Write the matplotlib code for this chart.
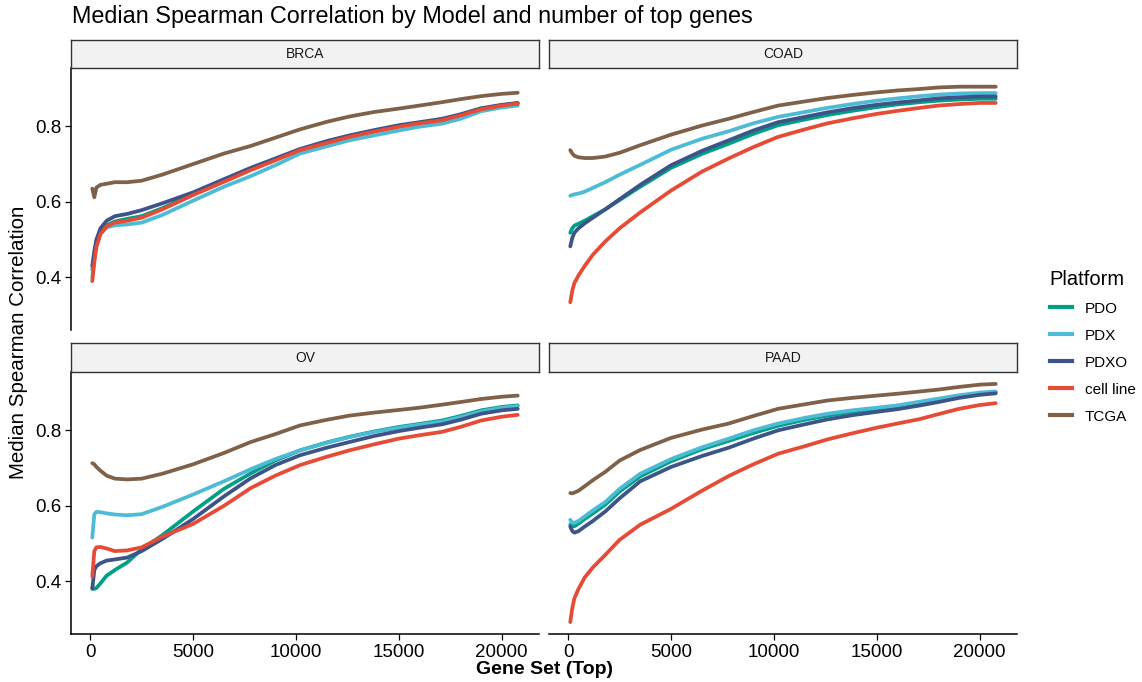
import matplotlib
matplotlib.use("Agg")
import matplotlib.pyplot as plt
from matplotlib.lines import Line2D

plt.rcParams['font.family'] = ['Liberation Sans', 'DejaVu Sans']

# Gene set sizes (shared grid of read-off points)
gene_set = [100, 200, 300, 500, 800, 1200, 1800, 2500, 3500, 5000, 6500, 7800,
            9000, 10200, 11500, 12600, 13800, 15000, 16000, 17100, 18000, 19000,
            20000, 20780]

platforms = ["PDO", "PDX", "PDXO", "cell line", "TCGA"]
colors = ["#00A087", "#4DBBD5", "#3C5488", "#E64B35", "#7E6148"]
panels = ["BRCA", "COAD", "OV", "PAAD"]

# BRCA
brca_pdo = [0.42, 0.455, 0.49, 0.52, 0.538, 0.548, 0.555, 0.562, 0.583, 0.62, 0.655, 0.686,
            0.712, 0.738, 0.757, 0.773, 0.787, 0.8, 0.809, 0.817, 0.83, 0.846, 0.856, 0.861]
brca_pdx = [0.40, 0.45, 0.485, 0.515, 0.532, 0.538, 0.54, 0.545, 0.565, 0.603, 0.64, 0.668,
            0.697, 0.728, 0.747, 0.763, 0.776, 0.789, 0.799, 0.807, 0.82, 0.84, 0.85, 0.855]
brca_pdxo = [0.43, 0.47, 0.50, 0.53, 0.55, 0.562, 0.568, 0.578, 0.596, 0.625, 0.66, 0.69,
             0.715, 0.74, 0.761, 0.776, 0.79, 0.803, 0.811, 0.82, 0.832, 0.848, 0.857, 0.862]
brca_cell = [0.39, 0.44, 0.48, 0.515, 0.535, 0.545, 0.55, 0.558, 0.58, 0.618, 0.653, 0.684,
             0.71, 0.737, 0.756, 0.772, 0.786, 0.799, 0.808, 0.816, 0.829, 0.845, 0.855, 0.86]
brca_tcga = [0.635, 0.612, 0.638, 0.645, 0.648, 0.652, 0.652, 0.656, 0.672, 0.70, 0.728, 0.748,
             0.77, 0.792, 0.812, 0.826, 0.838, 0.847, 0.855, 0.864, 0.872, 0.88, 0.886, 0.889]

# COAD
coad_pdo = [0.518, 0.53, 0.537, 0.542, 0.55, 0.562, 0.58, 0.605, 0.64, 0.69, 0.727, 0.754,
            0.78, 0.803, 0.818, 0.83, 0.841, 0.851, 0.858, 0.864, 0.868, 0.871, 0.873, 0.873]
coad_pdx = [0.616, 0.618, 0.62, 0.622, 0.627, 0.637, 0.652, 0.672, 0.698, 0.738, 0.767, 0.787,
            0.808, 0.825, 0.838, 0.849, 0.859, 0.868, 0.874, 0.88, 0.884, 0.887, 0.888, 0.888]
coad_pdxo = [0.482, 0.505, 0.518, 0.53, 0.543, 0.558, 0.58, 0.607, 0.645, 0.697, 0.735, 0.763,
             0.789, 0.811, 0.825, 0.837, 0.848, 0.857, 0.863, 0.869, 0.874, 0.877, 0.879, 0.879]
coad_cell = [0.334, 0.365, 0.385, 0.405, 0.43, 0.46, 0.495, 0.53, 0.572, 0.63, 0.68, 0.715,
             0.745, 0.772, 0.792, 0.808, 0.821, 0.833, 0.841, 0.849, 0.855, 0.859, 0.862, 0.862]
coad_tcga = [0.737, 0.728, 0.722, 0.718, 0.716, 0.716, 0.72, 0.73, 0.75, 0.778, 0.802, 0.82,
             0.838, 0.855, 0.866, 0.875, 0.883, 0.89, 0.895, 0.899, 0.903, 0.905, 0.905, 0.905]

# OV
ov_pdo = [0.384, 0.38, 0.382, 0.395, 0.415, 0.43, 0.45, 0.485, 0.522, 0.585, 0.645, 0.686,
          0.72, 0.747, 0.768, 0.783, 0.797, 0.809, 0.817, 0.826, 0.838, 0.853, 0.862, 0.866]
ov_pdx = [0.516, 0.578, 0.584, 0.583, 0.58, 0.577, 0.575, 0.578, 0.597, 0.63, 0.665, 0.697,
          0.724, 0.747, 0.767, 0.782, 0.796, 0.807, 0.815, 0.823, 0.835, 0.85, 0.86, 0.864]
ov_pdxo = [0.38, 0.43, 0.44, 0.448, 0.455, 0.458, 0.463, 0.48, 0.512, 0.565, 0.625, 0.673,
           0.708, 0.734, 0.754, 0.769, 0.785, 0.798, 0.807, 0.816, 0.828, 0.844, 0.853, 0.857]
ov_cell = [0.413, 0.48, 0.49, 0.491, 0.487, 0.48, 0.482, 0.49, 0.518, 0.552, 0.6, 0.647,
           0.68, 0.708, 0.73, 0.747, 0.763, 0.778, 0.787, 0.796, 0.809, 0.826, 0.836, 0.841]
ov_tcga = [0.713, 0.71, 0.703, 0.693, 0.68, 0.672, 0.67, 0.672, 0.685, 0.71, 0.74, 0.769,
           0.79, 0.813, 0.828, 0.839, 0.847, 0.854, 0.86, 0.868, 0.875, 0.883, 0.889, 0.892]

# PAAD
paad_pdo = [0.55, 0.545, 0.546, 0.553, 0.565, 0.58, 0.603, 0.638, 0.678, 0.718, 0.75, 0.772,
            0.793, 0.812, 0.828, 0.839, 0.849, 0.856, 0.862, 0.873, 0.882, 0.891, 0.898, 0.901]
paad_pdx = [0.563, 0.555, 0.555, 0.56, 0.572, 0.588, 0.61, 0.645, 0.685, 0.724, 0.755, 0.778,
            0.8, 0.818, 0.833, 0.844, 0.853, 0.86, 0.866, 0.876, 0.884, 0.893, 0.9, 0.903]
paad_pdxo = [0.545, 0.533, 0.529, 0.533, 0.545, 0.56, 0.585, 0.62, 0.665, 0.703, 0.732, 0.754,
             0.778, 0.8, 0.816, 0.829, 0.84, 0.849, 0.856, 0.866, 0.875, 0.886, 0.894, 0.898]
paad_cell = [0.292, 0.33, 0.355, 0.38, 0.41, 0.437, 0.47, 0.51, 0.55, 0.592, 0.64, 0.679,
             0.71, 0.738, 0.758, 0.776, 0.792, 0.807, 0.818, 0.83, 0.843, 0.857, 0.867, 0.872]
paad_tcga = [0.634, 0.633, 0.635, 0.64, 0.652, 0.668, 0.69, 0.72, 0.748, 0.78, 0.802, 0.818,
             0.838, 0.857, 0.869, 0.879, 0.886, 0.892, 0.897, 0.903, 0.908, 0.915, 0.921, 0.923]

panel_series = [
    [brca_pdo, brca_pdx, brca_pdxo, brca_cell, brca_tcga],
    [coad_pdo, coad_pdx, coad_pdxo, coad_cell, coad_tcga],
    [ov_pdo, ov_pdx, ov_pdxo, ov_cell, ov_tcga],
    [paad_pdo, paad_pdx, paad_pdxo, paad_cell, paad_tcga],
]

W, H = 1142, 682
fig = plt.figure(figsize=(W / 100, H / 100), dpi=100)

# shared limits with ggplot-like 5% expansion
all_y = [v for s in panel_series for ser in s for v in ser]
xr = max(gene_set) - min(gene_set)
yr = max(all_y) - min(all_y)
xlim = (min(gene_set) - 0.05 * xr, max(gene_set) + 0.05 * xr)
ylim = (min(all_y) - 0.05 * yr, max(all_y) + 0.05 * yr)

# pixel boxes: (left, top, right, bottom, strip top)
boxes = [(71, 68, 539, 330, 40), (549, 68, 1017, 330, 40),
         (71, 372, 539, 634, 343), (549, 372, 1017, 634, 343)]

def frac(l, t, r, b):
    return [l / W, 1 - b / H, (r - l) / W, (b - t) / H]

for i, (name, series) in enumerate(zip(panels, panel_series)):
    l, t, r, b, st = boxes[i]
    ax = fig.add_axes(frac(l, t, r, b))
    for ser, c in zip(series, colors):
        ax.plot(gene_set, ser, color=c, lw=2.7, solid_capstyle='round')
    ax.set_xlim(xlim)
    ax.set_ylim(ylim)
    ax.set_xticks([0, 5000, 10000, 15000, 20000])
    ax.set_yticks([0.4, 0.6, 0.8])
    for s in ['top', 'right']:
        ax.spines[s].set_visible(False)
    ax.tick_params(labelsize=13.5, length=4, width=0.9, colors='black', pad=3)
    bottom_row = i >= 2
    left_col = i % 2 == 0
    if not bottom_row:
        ax.spines['bottom'].set_visible(False)
        ax.tick_params(axis='x', bottom=False, labelbottom=False)
    if not left_col:
        ax.spines['left'].set_visible(False)
        ax.tick_params(axis='y', left=False, labelleft=False)
    for s in ['left', 'bottom']:
        ax.spines[s].set_linewidth(1.1)

    sax = fig.add_axes(frac(l, st, r, t))
    sax.set_facecolor('#F2F2F2')
    sax.set_xticks([])
    sax.set_yticks([])
    for s in sax.spines.values():
        s.set_linewidth(1.0)
        s.set_color('#333333')
    sax.text(0.5, 0.5, name, ha='center', va='center', fontsize=10, color='#1a1a1a',
             transform=sax.transAxes)

fig.text(72 / W, 1 - 17 / H, "Median Spearman Correlation by Model and number of top genes",
         fontsize=16.8, ha='left', va='center')
fig.text(19 / W, 1 - 342 / H, "Median Spearman Correlation", rotation=90,
         fontsize=14.8, ha='center', va='center')
fig.text(544 / W, 1 - 669 / H, "Gene Set (Top)", fontsize=14, fontweight='bold',
         ha='center', va='center')

handles = [Line2D([], [], color=c, lw=3.0) for c in colors]
leg = fig.legend(handles, platforms, title="Platform", loc='upper left',
                 bbox_to_anchor=(1036 / W, 1 - 256 / H), frameon=False,
                 fontsize=11, title_fontsize=14.5, handlelength=1.45,
                 labelspacing=0.85, handletextpad=0.85, alignment='left')

fig.savefig("out.png", dpi=100)
